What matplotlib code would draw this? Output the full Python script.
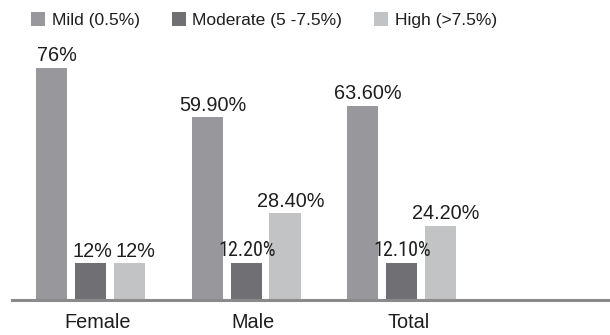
import matplotlib
matplotlib.use("Agg")
import matplotlib.pyplot as plt
from matplotlib.patches import Patch
import numpy as np

categories = ["Female", "Male", "Total"]
series_names = ["Mild (0.5%)", "Moderate (5 -7.5%)", "High (>7.5%)"]
mild = [76.0, 59.9, 63.6]
moderate = [12.0, 12.2, 12.1]
high = [12.0, 28.4, 24.2]
mild_labels = ["76%", "59.90%", "63.60%"]
moderate_labels = ["12%", "12.20%", "12.10%"]
high_labels = ["12%", "28.40%", "24.20%"]

colors = ["#98989c", "#707074", "#c2c3c5"]
text_color = "#1e1e1e"
regular = ["Liberation Sans", "DejaVu Sans"]
narrow = ["Liberation Sans Narrow", "Roboto Condensed", "Archivo Narrow",
          "Liberation Sans", "DejaVu Sans"]

fig = plt.figure(figsize=(6.10, 3.35), dpi=100)
ax = fig.add_axes([12 / 610, 35 / 335, 598 / 610, 274.5 / 335])

x = np.arange(len(categories))
width = 0.2
step = 0.25
series = [mild, moderate, high]
labels = [mild_labels, moderate_labels, high_labels]

for i, (vals, labs, col) in enumerate(zip(series, labels, colors)):
    pos = x + (i - 1) * step
    bars = ax.bar(pos, vals, width=width, color=col, edgecolor="none", zorder=2)
    for j, (b, lab) in enumerate(zip(bars, labs)):
        cx = b.get_x() + b.get_width() / 2
        top = b.get_height()
        if i == 1 and j > 0:
            ax.annotate(lab, (cx, top), xytext=(0.5, 2.0), textcoords="offset points",
                        ha="center", va="bottom", fontsize=14.5,
                        family=narrow, color=text_color)
        else:
            dx = 1.5 if (i == 1 and j == 0) else 4.0
            ax.annotate(lab, (cx, top), xytext=(dx, 2.0), textcoords="offset points",
                        ha="center", va="bottom", fontsize=14.3,
                        family=regular, color=text_color)

ax.set_xlim(-0.505, 3.34)
ax.set_ylim(0, 90)
for s in ["top", "right", "left"]:
    ax.spines[s].set_visible(False)
ax.spines["bottom"].set_color("#8a8a8a")
ax.spines["bottom"].set_linewidth(2.2)
ax.set_yticks([])
ax.set_xticks(x + 0.045)
ax.set_xticklabels(categories, fontsize=14.3, family=regular, color=text_color)
ax.tick_params(axis="x", length=0, pad=9)

handles = [Patch(facecolor=c, edgecolor="none") for c in colors]
fig.legend(handles, series_names, loc="center left", bbox_to_anchor=(0.051, 0.94),
           ncol=3, frameon=False, prop={"family": regular, "size": 12.5},
           labelcolor=text_color, handlelength=0.8, handleheight=0.8,
           handletextpad=0.38, columnspacing=1.85, borderpad=0, borderaxespad=0)

fig.savefig("out.png", dpi=100, facecolor="white")
